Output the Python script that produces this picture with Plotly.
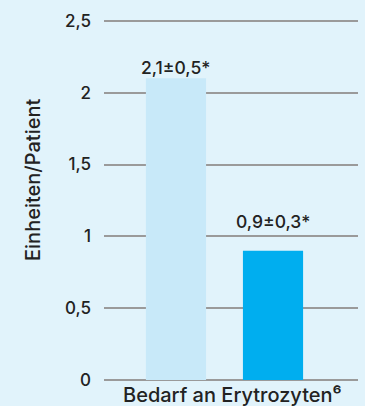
import plotly.graph_objects as go

# Transfusion requirement per patient, two groups
groups = ["A", "B"]
values = [2.1, 0.9]
value_labels = ["2,1±0,5*", "0,9±0,3*"]
bar_colors = ["#C8E9F9", "#00AEEF"]

tick_vals = [0, 0.5, 1, 1.5, 2, 2.5]
tick_text = ["0", "0,5", "1", "1,5", "2", "2,5"]

y_title = "Einheiten/Patient"
x_title = "Bedarf an Erytrozyten⁶"

BG = "#E1F3FB"
TEXT = "#222222"
GRID = "#9a9a9a"
FONT = "Inter"

W, H = 365, 406
ML, MR, MT, MB = 104, 7, 18, 26
plot_w = W - ML - MR
plot_h = H - MT - MB
Y_TOP = 2.52


def px_x(px):
    return (px - ML) / plot_w


def px_y(py):
    return (H - MB - py) / plot_h


x_pos = list(range(len(groups)))

fig = go.Figure()
fig.add_trace(go.Bar(
    x=x_pos,
    y=values,
    width=0.62,
    marker=dict(color=bar_colors, line=dict(width=0)),
    hoverinfo="skip",
))

for xp, v, lab, shift in zip(x_pos, values, value_labels, [11, 29]):
    fig.add_annotation(
        x=xp, y=v, xref="x", yref="y",
        text=lab, showarrow=False,
        yanchor="middle", yshift=shift,
        font=dict(family=FONT, size=17.5, color=TEXT, weight=500),
    )

fig.add_annotation(
    x=px_x(33), y=px_y(180), xref="paper", yref="paper",
    text=y_title, showarrow=False, textangle=-90,
    xanchor="center", yanchor="middle",
    font=dict(family=FONT, size=20, color=TEXT, weight=500),
)

fig.add_annotation(
    x=px_x(232), y=px_y(395), xref="paper", yref="paper",
    text=x_title, showarrow=False,
    xanchor="center", yanchor="middle",
    font=dict(family=FONT, size=20, color=TEXT, weight=500),
)

fig.update_layout(
    width=W, height=H,
    margin=dict(l=ML, r=MR, t=MT, b=MB),
    paper_bgcolor=BG, plot_bgcolor=BG,
    showlegend=False,
    xaxis=dict(
        range=[-0.742, 1.876],
        showgrid=False, zeroline=False, showticklabels=False,
        showline=False, fixedrange=True,
    ),
    yaxis=dict(
        range=[0, Y_TOP],
        tickvals=tick_vals, ticktext=tick_text,
        showgrid=True, gridcolor=GRID, gridwidth=2,
        zeroline=True, zerolinecolor=GRID, zerolinewidth=2,
        showline=False, ticks="", ticklabelstandoff=12,
        tickfont=dict(family=FONT, size=17, color=TEXT, weight=500),
        fixedrange=True,
    ),
)

fig.write_html("out.html")
